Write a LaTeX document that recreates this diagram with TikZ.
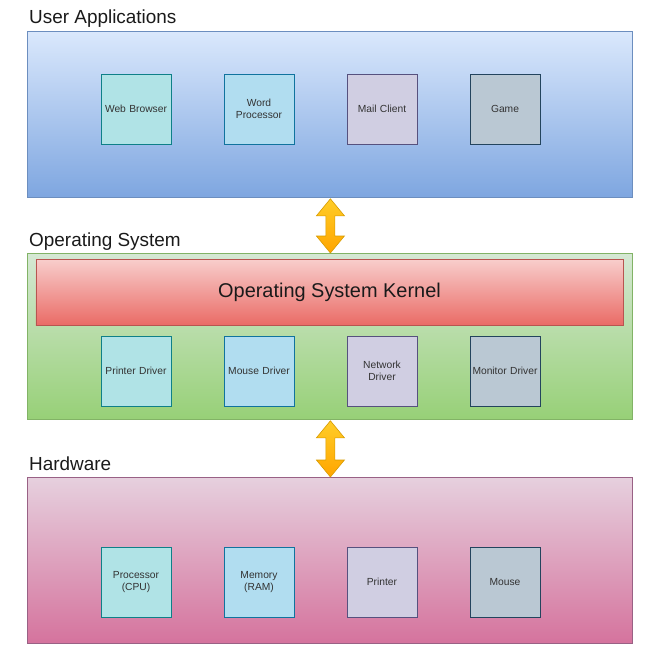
\documentclass[tikz,border=0pt]{standalone}
\usepackage{fontspec}
\setmainfont{Liberation Sans}
\usetikzlibrary{calc}
\definecolor{txt}{HTML}{333333}
\definecolor{ttl}{HTML}{1A1A1A}
\tikzset{
  panel/.style={anchor=north west, minimum width=605bp, minimum height=166bp, inner sep=0pt, line width=0.8bp},
  ptitle/.style={anchor=base west, inner sep=0pt, text=ttl, font=\fontsize{19}{22}\selectfont},
  item/.style={minimum width=70bp, minimum height=70bp, inner sep=0pt, text width=70bp, align=center, line width=0.8bp, text=txt, font=\fontsize{10.3}{12.5}\selectfont},
  cyanbox/.style={item, fill={rgb,255:red,176;green,227;blue,230}, draw={rgb,255:red,14;green,128;blue,136}},
  bluebox/.style={item, fill={rgb,255:red,177;green,221;blue,240}, draw={rgb,255:red,16;green,115;blue,158}},
  purplebox/.style={item, fill={rgb,255:red,208;green,206;blue,226}, draw={rgb,255:red,86;green,81;blue,126}},
  greybox/.style={item, fill={rgb,255:red,186;green,200;blue,211}, draw={rgb,255:red,35;green,68;blue,93}},
  blockarrow/.style={top color={rgb,255:red,255;green,205;blue,40}, bottom color={rgb,255:red,255;green,165;blue,0}, draw={rgb,255:red,215;green,155;blue,0}, line width=0.6bp, line join=miter}
}
\begin{document}
\begin{tikzpicture}[x=1bp,y=-1bp]
\useasboundingbox (0,0) rectangle (659,650);
% panels
\node[panel, top color={rgb,255:red,218;green,232;blue,252}, bottom color={rgb,255:red,126;green,166;blue,224}, draw={rgb,255:red,108;green,142;blue,191}] (ua) at (27,31) {};
\node[panel, top color={rgb,255:red,213;green,232;blue,212}, bottom color={rgb,255:red,151;green,208;blue,119}, draw={rgb,255:red,130;green,179;blue,102}] (os) at (27,253) {};
\node[panel, top color={rgb,255:red,230;green,208;blue,222}, bottom color={rgb,255:red,213;green,115;blue,157}, draw={rgb,255:red,153;green,97;blue,133}] (hw) at (27,477) {};
% titles
\node[ptitle] (tua) at (29,24) {User Applications};
\node[ptitle] (tos) at (29,246) {Operating System};
\node[ptitle] (thw) at (29,470) {Hardware};
% kernel
\node[minimum width=587bp, minimum height=66bp, inner sep=0pt, line width=0.8bp, top color={rgb,255:red,248;green,206;blue,204}, bottom color={rgb,255:red,234;green,107;blue,102}, draw={rgb,255:red,184;green,84;blue,80}, text=ttl, font=\fontsize{20}{24}\selectfont] (kern) at (329.5,292) {Operating System Kernel};
% user apps
\node[cyanbox] (web) at (136,109) {Web Browser};
\node[bluebox] (word) at (259,109) {Word\\Processor};
\node[purplebox] (mail) at (382,109) {Mail Client};
\node[greybox] (game) at (505,109) {Game};
% drivers
\node[cyanbox] (pdrv) at (136,371) {Printer Driver};
\node[bluebox] (mdrv) at (259,371) {Mouse Driver};
\node[purplebox] (ndrv) at (382,371) {Network\\Driver};
\node[greybox] (mondrv) at (505,371) {Monitor Driver};
% hardware
\node[cyanbox] (cpu) at (136,582) {Processor\\(CPU)};
\node[bluebox] (ram) at (259,582) {Memory\\(RAM)};
\node[purplebox] (prn) at (382,582) {Printer};
\node[greybox] (mouse) at (505,582) {Mouse};
% arrows
\coordinate (a1t) at ($(ua.south)+(0.5,1)$);
\coordinate (a1b) at ($(os.north)+(0.5,0)$);
\coordinate (a2t) at ($(os.south)+(0.5,1)$);
\coordinate (a2b) at ($(hw.north)+(0.5,0)$);
\foreach \t/\b in {a1t/a1b, a2t/a2b}{
\draw[blockarrow] (\t) -- ($(\t)+(14,17)$) -- ($(\t)+(4.5,17)$) -- ($(\b)+(4.5,-17)$) -- ($(\b)+(14,-17)$) -- (\b) -- ($(\b)+(-14,-17)$) -- ($(\b)+(-4.5,-17)$) -- ($(\t)+(-4.5,17)$) -- ($(\t)+(-14,17)$) -- cycle;
}
\end{tikzpicture}
\end{document}
